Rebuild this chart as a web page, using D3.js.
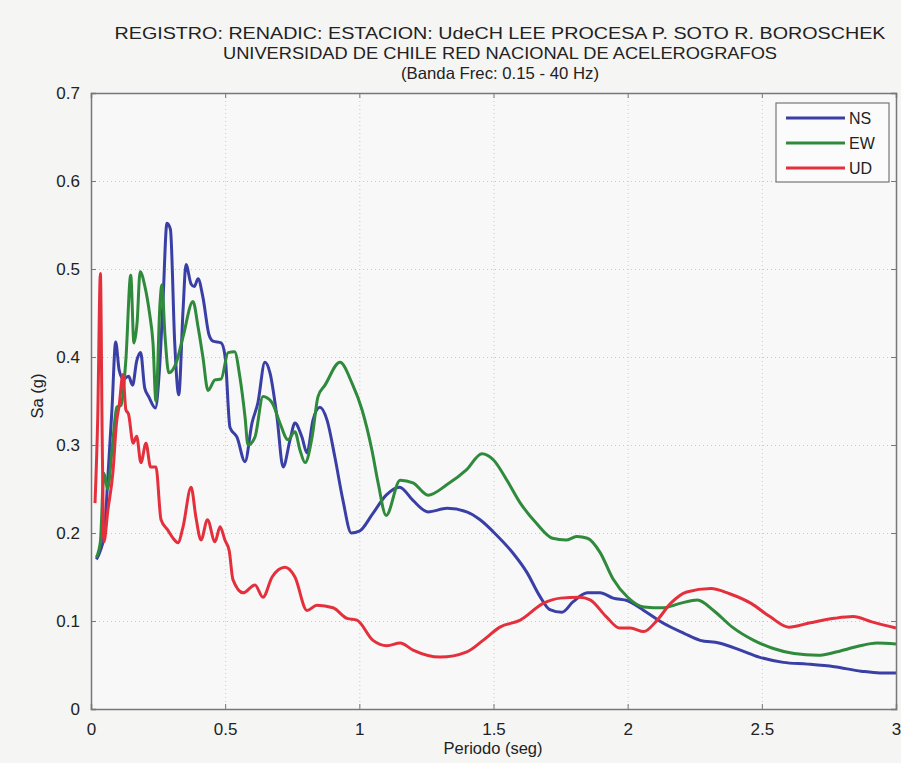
<!DOCTYPE html>
<html lang="en">
<head>
<meta charset="utf-8" />
<title>Espectro de respuesta</title>
<script src="https://d3js.org/d3.v7.min.js"></script>
<style>
  body { margin: 0; background: #f5f5f4; }
  text { font-family: "Liberation Sans", Arial, sans-serif; fill: #222; }
  .grid line { stroke: #c8c8c8; stroke-dasharray: 1,3; }
</style>
</head>
<body>
<div id="chart"></div>
<script>
// periods (s) and spectral accelerations (g)
var nsT = [0.02,0.035,0.05,0.063,0.078,0.092,0.105,0.12,0.14,0.155,0.17,0.185,0.2,0.215,0.24,0.255,0.268,0.283,0.296,0.312,0.327,0.343,0.354,0.373,0.385,0.399,0.417,0.44,0.455,0.485,0.5,0.518,0.544,0.574,0.6,0.622,0.648,0.667,0.693,0.716,0.742,0.76,0.786,0.805,0.827,0.853,0.88,0.909,0.939,0.97,1.0,1.05,1.1,1.15,1.2,1.256,1.327,1.4,1.45,1.51,1.573,1.625,1.673,1.71,1.755,1.797,1.85,1.897,1.946,2.0,2.06,2.13,2.21,2.27,2.34,2.42,2.49,2.58,2.67,2.77,2.87,2.94,3.0];
var nsSa = [0.17,0.18,0.2,0.264,0.34,0.417,0.385,0.375,0.378,0.368,0.395,0.405,0.365,0.355,0.342,0.385,0.461,0.552,0.545,0.416,0.357,0.453,0.505,0.483,0.48,0.489,0.468,0.425,0.418,0.416,0.4,0.32,0.309,0.281,0.325,0.348,0.394,0.382,0.332,0.275,0.306,0.325,0.309,0.291,0.328,0.343,0.328,0.286,0.237,0.2,0.202,0.222,0.243,0.252,0.237,0.224,0.228,0.224,0.215,0.198,0.177,0.155,0.128,0.113,0.11,0.122,0.132,0.132,0.126,0.123,0.112,0.098,0.086,0.078,0.075,0.067,0.059,0.053,0.051,0.048,0.043,0.041,0.041];

var ewT = [0.02,0.035,0.048,0.062,0.08,0.096,0.112,0.13,0.148,0.16,0.172,0.183,0.201,0.218,0.231,0.242,0.257,0.264,0.276,0.29,0.317,0.343,0.38,0.399,0.417,0.436,0.462,0.485,0.511,0.535,0.555,0.574,0.585,0.611,0.641,0.675,0.704,0.734,0.76,0.779,0.798,0.824,0.846,0.872,0.928,0.973,1.01,1.047,1.07,1.1,1.152,1.2,1.256,1.327,1.4,1.457,1.5,1.55,1.6,1.66,1.72,1.77,1.81,1.85,1.897,1.945,2.0,2.06,2.13,2.195,2.26,2.32,2.39,2.47,2.54,2.62,2.71,2.78,2.855,2.93,3.0];
var ewSa = [0.172,0.19,0.268,0.25,0.3,0.343,0.345,0.397,0.493,0.416,0.44,0.497,0.48,0.45,0.416,0.35,0.46,0.482,0.423,0.382,0.393,0.423,0.463,0.434,0.4,0.362,0.374,0.375,0.405,0.406,0.377,0.332,0.3,0.309,0.355,0.348,0.325,0.306,0.315,0.294,0.28,0.309,0.355,0.368,0.394,0.37,0.34,0.294,0.257,0.22,0.26,0.257,0.243,0.255,0.272,0.29,0.283,0.26,0.234,0.211,0.194,0.192,0.196,0.194,0.178,0.148,0.127,0.116,0.115,0.12,0.124,0.112,0.093,0.078,0.069,0.063,0.061,0.065,0.071,0.075,0.074];

var udT = [0.015,0.025,0.035,0.042,0.048,0.063,0.082,0.095,0.105,0.119,0.13,0.14,0.157,0.17,0.186,0.205,0.222,0.242,0.261,0.287,0.306,0.324,0.343,0.373,0.391,0.41,0.434,0.462,0.481,0.499,0.515,0.529,0.567,0.611,0.641,0.675,0.723,0.76,0.805,0.842,0.902,0.954,0.991,1.051,1.103,1.152,1.2,1.301,1.401,1.461,1.524,1.6,1.685,1.75,1.82,1.86,1.92,1.97,2.01,2.06,2.11,2.16,2.22,2.31,2.38,2.46,2.53,2.6,2.68,2.77,2.84,2.91,3.0];
var udSa = [0.234,0.33,0.495,0.3,0.19,0.226,0.27,0.325,0.345,0.38,0.34,0.335,0.302,0.31,0.28,0.302,0.275,0.275,0.215,0.203,0.194,0.189,0.207,0.252,0.218,0.192,0.215,0.19,0.207,0.192,0.18,0.147,0.132,0.141,0.127,0.15,0.161,0.15,0.112,0.118,0.115,0.103,0.101,0.078,0.072,0.075,0.067,0.059,0.065,0.078,0.093,0.101,0.12,0.126,0.127,0.124,0.105,0.092,0.092,0.088,0.101,0.12,0.133,0.137,0.131,0.12,0.105,0.093,0.098,0.103,0.105,0.099,0.092];

var seriesNames = ["NS", "EW", "UD"];
var seriesColors = ["#3a3fa6", "#2f8a3c", "#e4303c"];
var xTicks = [0, 0.5, 1, 1.5, 2, 2.5, 3];
var yTicks = [0, 0.1, 0.2, 0.3, 0.4, 0.5, 0.6, 0.7];
var titleLines = [
  "REGISTRO: RENADIC: ESTACION: UdeCH LEE PROCESA P. SOTO R. BOROSCHEK",
  "UNIVERSIDAD DE CHILE RED NACIONAL DE ACELEROGRAFOS",
  "(Banda Frec: 0.15 - 40 Hz)"
];
// widths the title lines take in the scan
var titleWidths = [771, 554, 198];

var W = 901, H = 763;
var margin = {top: 93, right: 5, bottom: 54, left: 91};
var width = W - margin.left - margin.right;
var height = H - margin.top - margin.bottom;

var svg = d3.select("#chart").append("svg")
    .attr("width", W)
    .attr("height", H);

svg.append("rect").attr("width", W).attr("height", H).attr("fill", "#f5f5f4");

// title, three centred lines
svg.append("g").selectAll("text")
    .data(titleLines)
    .enter().append("text")
    .attr("x", 500)
    .attr("y", function(d, i) { return 39 + i * 20; })
    .attr("text-anchor", "middle")
    .attr("textLength", function(d, i) { return titleWidths[i]; })
    .attr("lengthAdjust", "spacingAndGlyphs")
    .style("font-size", "16.5px")
    .text(function(d) { return d; });

var g = svg.append("g").attr("transform", "translate(" + margin.left + "," + margin.top + ")");

var xScale = d3.scaleLinear().domain([0, 3]).range([0, width]);
var yScale = d3.scaleLinear().domain([0, 0.7]).range([height, 0]);

g.append("rect").attr("width", width).attr("height", height).attr("fill", "#f8f8f8");

// dotted grid
g.append("g").attr("class", "grid")
    .call(d3.axisBottom(xScale).tickValues(xTicks).tickSize(height).tickFormat(""))
    .call(function(s) { s.select(".domain").remove(); });
g.append("g").attr("class", "grid")
    .call(d3.axisLeft(yScale).tickValues(yTicks).tickSize(-width).tickFormat(""))
    .call(function(s) { s.select(".domain").remove(); });

// curves
var line = d3.line()
    .x(function(d) { return xScale(d[0]); })
    .y(function(d) { return yScale(d[1]); })
    .curve(d3.curveMonotoneX);

var series = [d3.zip(nsT, nsSa), d3.zip(ewT, ewSa), d3.zip(udT, udSa)];

// draw NS first, then EW, then UD on top
series.forEach(function(s, i) {
  g.append("path")
      .datum(s)
      .attr("fill", "none")
      .attr("stroke", seriesColors[i])
      .attr("stroke-width", 3)
      .attr("stroke-linejoin", "round")
      .attr("d", line);
});

// axes with inward ticks, matlab style box
var xAxis = g.append("g")
    .attr("transform", "translate(0," + height + ")")
    .call(d3.axisBottom(xScale).tickValues(xTicks).tickSize(-5).tickPadding(14)
      .tickFormat(function(d) { return d === 0 ? "0" : String(d); }));
var yAxis = g.append("g")
    .call(d3.axisLeft(yScale).tickValues(yTicks).tickSize(-5).tickPadding(11)
      .tickFormat(function(d) { return d === 0 ? "0" : d3.format(".1f")(d); }));
g.append("g")
    .call(d3.axisTop(xScale).tickValues(xTicks).tickSize(-5).tickFormat(""));
g.append("g")
    .attr("transform", "translate(" + width + ",0)")
    .call(d3.axisRight(yScale).tickValues(yTicks).tickSize(-5).tickFormat(""));

g.selectAll(".domain").attr("stroke", "#777").attr("stroke-width", 1.5);
g.selectAll(".tick line").filter(function() { return this.parentNode.parentNode.getAttribute("class") !== "grid"; })
    .attr("stroke", "#777");
xAxis.selectAll("text").style("font-size", "17px").attr("fill", "#222");
yAxis.selectAll("text").style("font-size", "17px").attr("fill", "#222");

// axis titles
svg.append("text")
    .attr("x", 493).attr("y", 754)
    .attr("text-anchor", "middle")
    .style("font-size", "16.5px")
    .text("Periodo (seg)");
svg.append("text")
    .attr("transform", "translate(43,396) rotate(-90)")
    .attr("text-anchor", "middle")
    .style("font-size", "16.5px")
    .text("Sa (g)");

// legend
var legend = g.append("g").attr("transform", "translate(" + (width - 120) + ",10)");
legend.append("rect")
    .attr("width", 113).attr("height", 79)
    .attr("fill", "#fbfbfb").attr("stroke", "#777").attr("stroke-width", 1.2);
seriesNames.forEach(function(name, i) {
  legend.append("line")
      .attr("x1", 10).attr("x2", 69)
      .attr("y1", 15 + i * 25).attr("y2", 15 + i * 25)
      .attr("stroke", seriesColors[i]).attr("stroke-width", 3);
  legend.append("text")
      .attr("x", 73).attr("y", 21 + i * 25)
      .style("font-size", "16px")
      .text(name);
});
</script>
</body>
</html>
